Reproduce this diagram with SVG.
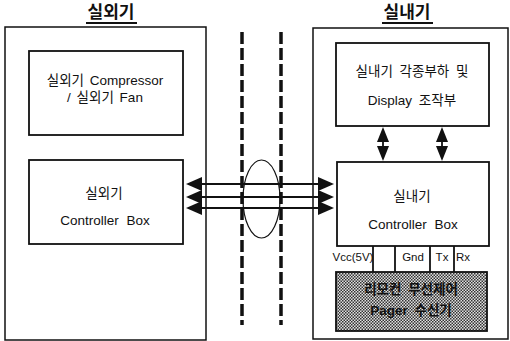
<svg xmlns="http://www.w3.org/2000/svg" width="510" height="341" viewBox="0 0 510 341">
<defs>
<style>
.t{font-family:"Liberation Sans","Noto Sans CJK KR",sans-serif;fill:#111;text-anchor:middle}
.lbl{font-size:13.5px}
.pin{font-size:11.5px}
.ttl{font-size:17px;font-weight:bold}
.box{fill:#fff;stroke:#111;stroke-width:1.8}
.outer{fill:none;stroke:#111;stroke-width:1.5}
.ln{stroke:#111;stroke-width:1.8;fill:none}
.dash{stroke:#111;stroke-width:3.5;stroke-dasharray:12 4;fill:none}
.ah{fill:#111}
</style>
<pattern id="dots" width="3" height="3" patternUnits="userSpaceOnUse">
<rect width="3" height="3" fill="#e0e0e0"/>
<rect x="0" y="0" width="1.5" height="1.5" fill="#333"/>
<rect x="1.5" y="1.5" width="1.5" height="1.5" fill="#333"/>
</pattern>
</defs>
<rect width="510" height="341" fill="#fff"/>

<g id="outdoor">
<rect class="outer" x="5" y="27" width="201" height="313"/>
<text class="t ttl" x="111" y="18">실외기</text>
<line class="ln" x1="86" y1="23" x2="137" y2="23"/>
</g>

<g id="outdoor-compressor">
<rect class="box" x="29" y="51" width="154" height="84"/>
<text class="t lbl" x="105" y="85" word-spacing="2">실외기 Compressor</text>
<text class="t lbl" x="105" y="102" word-spacing="2">/ 실외기 Fan</text>
</g>

<g id="outdoor-controller">
<rect class="box" x="29" y="160" width="154" height="84"/>
<text class="t lbl" x="104" y="198">실외기</text>
<text class="t lbl" x="105" y="225" word-spacing="4">Controller Box</text>
</g>

<g id="indoor">
<rect class="outer" x="313" y="28" width="195" height="311"/>
<text class="t ttl" x="407" y="18">실내기</text>
<line class="ln" x1="382" y1="23" x2="433" y2="23"/>
</g>

<g id="indoor-display">
<rect class="box" x="336" y="43" width="153" height="83"/>
<text class="t lbl" x="412" y="76" word-spacing="3">실내기 각종부하 및</text>
<text class="t lbl" x="412" y="105" word-spacing="3">Display 조작부</text>
</g>

<g id="indoor-controller">
<rect class="box" x="337" y="162" width="152" height="84"/>
<text class="t lbl" x="412" y="201">실내기</text>
<text class="t lbl" x="413" y="229" word-spacing="4">Controller Box</text>
</g>

<g id="pins">
<text class="t pin" x="353" y="261">Vcc(5V)</text>
<text class="t pin" x="413" y="261">Gnd</text>
<text class="t pin" x="442" y="261">Tx</text>
<text class="t pin" x="463" y="261">Rx</text>
</g>

<g id="pager">
<rect x="336" y="272" width="151" height="59" fill="url(#dots)" stroke="#111" stroke-width="1.8"/>
<text class="t lbl" x="411" y="294" style="font-weight:bold" word-spacing="3">리모컨 무선제어</text>
<text class="t lbl" x="411" y="315" style="font-weight:bold" word-spacing="3">Pager 수신기</text>
</g>

<g id="connectors">
<line class="dash" x1="242" y1="32" x2="242" y2="325"/>
<line class="dash" x1="281" y1="32" x2="281" y2="325"/>
<ellipse cx="261.5" cy="199" rx="18.5" ry="39" fill="none" stroke="#111" stroke-width="1.2"/>
<line class="ln" x1="200" y1="184" x2="320" y2="184"/>
<line class="ln" x1="200" y1="197" x2="320" y2="197"/>
<line class="ln" x1="200" y1="208" x2="320" y2="208"/>
<polygon class="ah" points="186,184 202,177 202,191"/>
<polygon class="ah" points="186,197 202,190 202,204"/>
<polygon class="ah" points="186,208 202,201 202,215"/>
<polygon class="ah" points="334,184 318,177 318,191"/>
<polygon class="ah" points="334,197 318,190 318,204"/>
<polygon class="ah" points="334,208 318,201 318,215"/>
<line class="ln" x1="383" y1="130" x2="383" y2="158"/>
<polygon class="ah" points="383,127 377,142 389,142"/>
<polygon class="ah" points="383,161 377,146 389,146"/>
<line class="ln" x1="442" y1="130" x2="442" y2="158"/>
<polygon class="ah" points="442,127 436,142 448,142"/>
<polygon class="ah" points="442,161 436,146 448,146"/>
<line class="ln" x1="373" y1="246" x2="373" y2="272"/>
<line class="ln" x1="395" y1="246" x2="395" y2="272"/>
<line class="ln" x1="430" y1="246" x2="430" y2="272"/>
<line class="ln" x1="454" y1="246" x2="454" y2="272"/>
</g>
</svg>
